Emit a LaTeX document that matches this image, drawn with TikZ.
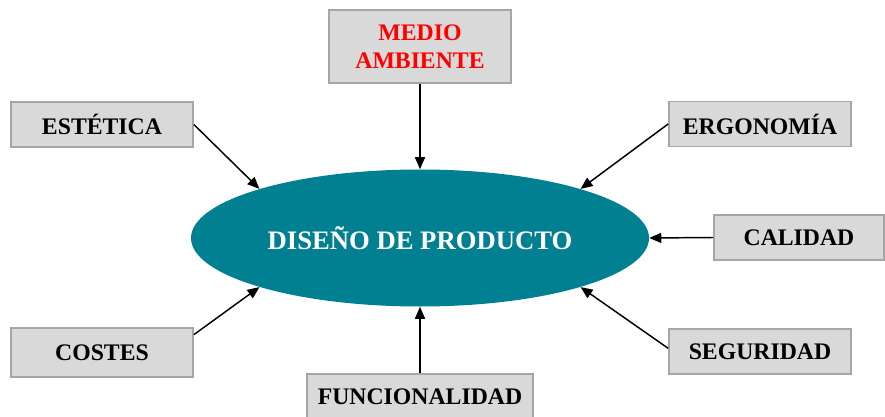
\documentclass[tikz,border=0pt]{standalone}
\usepackage{fontspec}
\setmainfont{Liberation Serif}
\usetikzlibrary{shapes.geometric,arrows.meta}
\definecolor{petroleo}{RGB}{0,128,145}
\definecolor{cajagris}{RGB}{217,217,217}
\definecolor{bordegris}{RGB}{166,166,166}
\begin{document}
\begin{tikzpicture}[x=0.75pt,y=-0.75pt]
    \tikzstyle{factor}=[draw=bordegris,line width=1.3pt,fill=cajagris,
      minimum width=136.5pt,minimum height=33.75pt,inner sep=0pt,
      align=center,font=\fontsize{17.8}{21}\selectfont\bfseries];
    \tikzstyle{flecha}=[line width=1.1pt,-{Triangle[length=9pt,width=7.5pt]}];
    \useasboundingbox (0,0) rectangle (885,417);
    %\node (name) at (x,y) [factor] {text};
    \node (dp) at (420,238) [ellipse,fill=petroleo,text=white,inner sep=0pt,
      minimum width=343.5pt,minimum height=102.75pt,
      font=\fontsize{20}{24}\selectfont\bfseries] {DISEÑO DE PRODUCTO};
    \node (med) at (420,46.5) [factor,minimum height=54.75pt,text=red] {MEDIO\\AMBIENTE};
    \node (est) at (102,124.5) [factor] {ESTÉTICA};
    \node (erg) at (760,124) [factor] {ERGONOMÍA};
    \node (cal) at (799,237.5) [factor,minimum width=127.5pt] {CALIDAD};
    \node (cos) at (102,352.5) [factor,minimum height=36.75pt] {COSTES};
    \node (seg) at (760,351.5) [factor] {SEGURIDAD};
    \node (fun) at (420,396.5) [factor,minimum width=170pt] {FUNCIONALIDAD};
    \draw[flecha] (med) -- (dp.north);
    \draw[flecha] (est.east) -- (dp.163);
    \draw[flecha] (erg.west) -- (dp.17);
    \draw[flecha] (cal.west) -- (dp.0);
    \draw[flecha] (cos.11) -- (dp.197);
    \draw[flecha] (seg.178) -- (dp.-17);
    \draw[flecha] (fun) -- (dp.south);
  \end{tikzpicture}
\end{document}
